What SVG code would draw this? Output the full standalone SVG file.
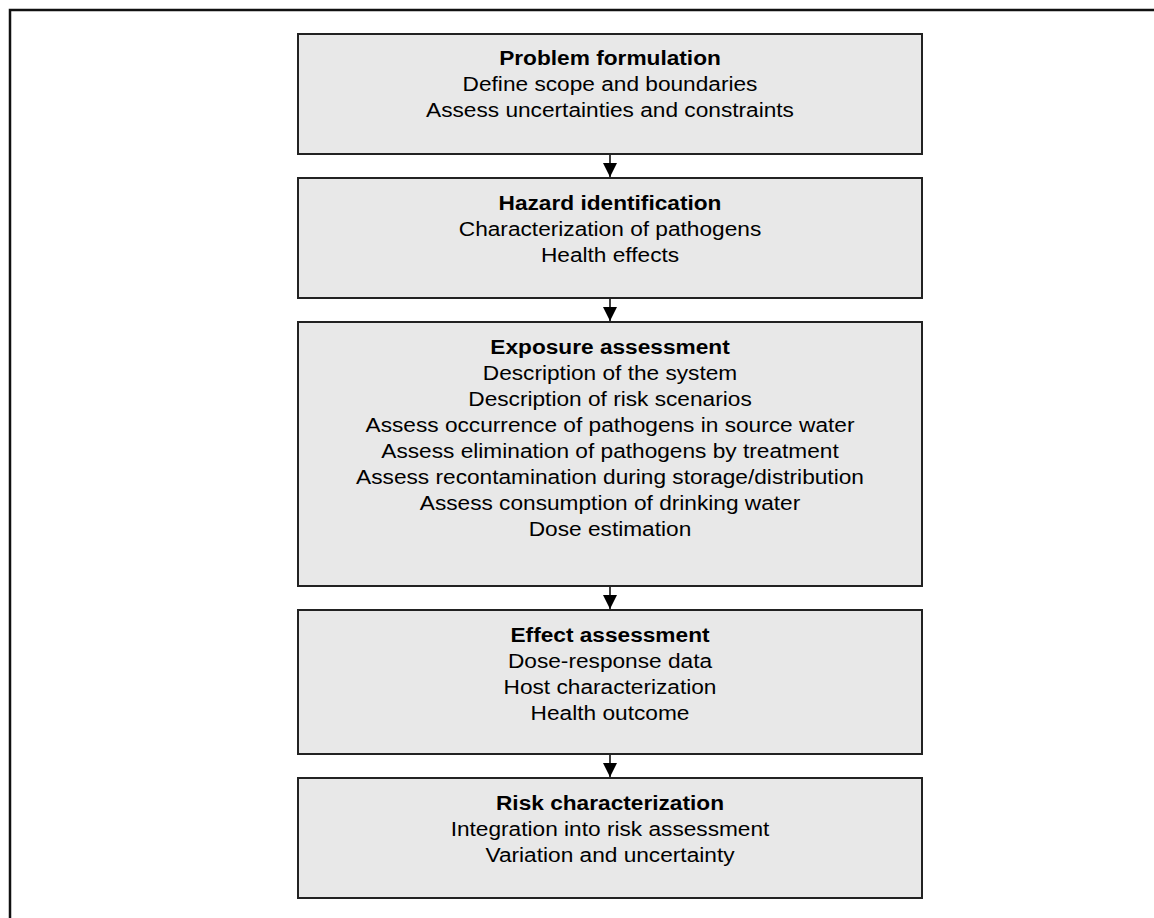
<svg xmlns="http://www.w3.org/2000/svg" width="1154" height="918" viewBox="0 0 1154 918">
<style>
.box{fill:#e8e8e8;stroke:#222;stroke-width:2}
.t{font-family:"Liberation Sans",Arial,sans-serif;font-size:21px;fill:#000;text-anchor:middle}
.b{font-weight:bold}
.c{stroke:#000;stroke-width:1.5;fill:none}
</style>
<defs>
<marker id="ah" markerUnits="userSpaceOnUse" markerWidth="14" markerHeight="16" refX="14" refY="7" orient="auto">
<path d="M0,0 L14,7 L0,14 Z" fill="#000"/>
</marker>
</defs>
<rect x="0" y="0" width="1154" height="918" fill="#fff"/>
<path d="M10,918 V10 H1154" fill="none" stroke="#111" stroke-width="2.5"/>
<g id="n1">
<rect class="box" x="298" y="34" width="624" height="120"/>
<g transform="translate(610 0) scale(1.08 1)">
<text class="t b" x="0" y="65">Problem formulation</text>
<text class="t" x="0" y="91">Define scope and boundaries</text>
<text class="t" x="0" y="117">Assess uncertainties and constraints</text>
</g>
</g>
<g id="n2">
<rect class="box" x="298" y="178" width="624" height="120"/>
<g transform="translate(610 0) scale(1.08 1)">
<text class="t b" x="0" y="210">Hazard identification</text>
<text class="t" x="0" y="236">Characterization of pathogens</text>
<text class="t" x="0" y="262">Health effects</text>
</g>
</g>
<g id="n3">
<rect class="box" x="298" y="322" width="624" height="264"/>
<g transform="translate(610 0) scale(1.08 1)">
<text class="t b" x="0" y="354">Exposure assessment</text>
<text class="t" x="0" y="380">Description of the system</text>
<text class="t" x="0" y="406">Description of risk scenarios</text>
<text class="t" x="0" y="432">Assess occurrence of pathogens in source water</text>
<text class="t" x="0" y="458">Assess elimination of pathogens by treatment</text>
<text class="t" x="0" y="484">Assess recontamination during storage/distribution</text>
<text class="t" x="0" y="510">Assess consumption of drinking water</text>
<text class="t" x="0" y="536">Dose estimation</text>
</g>
</g>
<g id="n4">
<rect class="box" x="298" y="610" width="624" height="144"/>
<g transform="translate(610 0) scale(1.08 1)">
<text class="t b" x="0" y="642">Effect assessment</text>
<text class="t" x="0" y="668">Dose-response data</text>
<text class="t" x="0" y="694">Host characterization</text>
<text class="t" x="0" y="720">Health outcome</text>
</g>
</g>
<g id="n5">
<rect class="box" x="298" y="778" width="624" height="120"/>
<g transform="translate(610 0) scale(1.08 1)">
<text class="t b" x="0" y="810">Risk characterization</text>
<text class="t" x="0" y="836">Integration into risk assessment</text>
<text class="t" x="0" y="862">Variation and uncertainty</text>
</g>
</g>
<g id="connectors">
<line class="c" x1="610" y1="155" x2="610" y2="177" marker-end="url(#ah)"/>
<line class="c" x1="610" y1="299" x2="610" y2="321" marker-end="url(#ah)"/>
<line class="c" x1="610" y1="587" x2="610" y2="609" marker-end="url(#ah)"/>
<line class="c" x1="610" y1="755" x2="610" y2="777" marker-end="url(#ah)"/>
</g>
</svg>
